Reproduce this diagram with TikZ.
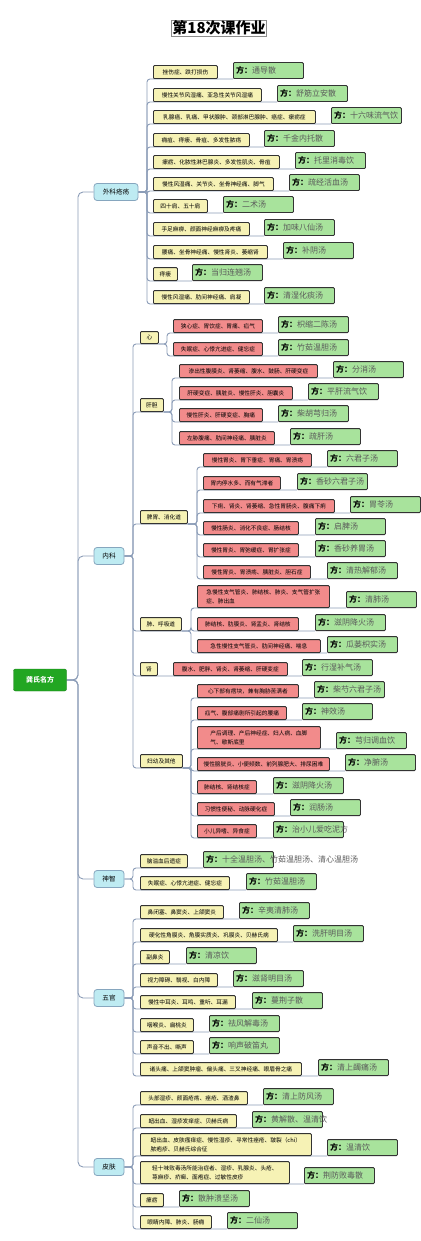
\documentclass[tikz,border=0pt]{standalone}
\usepackage{fontspec}
\setmainfont{Noto Sans CJK SC}
\usetikzlibrary{backgrounds}
\definecolor{yelc}{HTML}{F6F2B5}
\definecolor{redc}{HTML}{F28B8B}
\definecolor{grnc}{HTML}{A8E39C}
\definecolor{l1c}{HTML}{BEEBF2}
\definecolor{l1b}{HTML}{86A6BE}
\definecolor{lnc}{HTML}{8C9DB8}
\definecolor{rootc}{HTML}{22A622}
\definecolor{rootb}{HTML}{1A7F1A}
\definecolor{fg}{HTML}{5A5A5A}
\tikzset{
 ln/.style={draw=lnc, line width=0.9pt, rounded corners=3pt},
 yb/.style={draw=black!80, fill=yelc, line width=0.8pt, rounded corners=1pt, inner xsep=3pt, inner ysep=1pt, minimum height=13pt, align=left, font=\fontsize{5.7}{9}\selectfont},
 rb/.style={yb, fill=redc},
 gb/.style={draw=black!80, fill=grnc, line width=0.8pt, rounded corners=1pt, minimum width=70pt, minimum height=16pt, inner sep=0pt},
 l1/.style={draw=l1b, fill=l1c, line width=0.8pt, rounded corners=3pt, minimum height=17pt, inner sep=0pt, font=\fontsize{6.6}{8}\selectfont},
}
\newcommand\lf[8]{%
 \node[#1, anchor=south west, minimum width=#5pt] (#2) at (#3,#4) {#6};
 \node[gb, anchor=south west] (#2g) at (#7,#4) {};
 \node[anchor=west, inner sep=0pt, font=\fontsize{8}{9}\selectfont] at ([xshift=3pt]#2g.west) {\textbf{方：}\textcolor{fg}{#8}};
}
\newcommand\cn[3]{\draw[ln] (#1) -- (#1 -| #2) |- (#3.south west) -- (#3g.south west);}
\begin{document}
\begin{tikzpicture}[x=1pt,y=-1pt]
\useasboundingbox (0,0) rectangle (420,1241);
\coordinate (R) at (78,0);
\coordinate (Twk) at (147,0);
\coordinate (Tn) at (133,0);
\coordinate (Txin) at (167,0);
\coordinate (Tgd) at (172,0);
\coordinate (Tpw) at (197,0);
\coordinate (Tfei) at (191,0);
\coordinate (Tfy) at (191,0);

\node[draw=black!45, line width=0.5pt, inner sep=0.8pt, font=\fontsize{15}{16}\selectfont\bfseries] (title) at (219,28) {第18次课作业};

\node[fill=rootc, draw=rootb, rounded corners=2pt, minimum width=53pt, minimum height=22pt, text=white, font=\fontsize{7}{8}\selectfont\bfseries] (root) at (40,680) {龚氏名方};

\node[l1, minimum width=44pt] (wk) at (116,192) {外科疮疡};
\node[l1, minimum width=30pt] (nk) at (109,556) {内科};
\node[l1, minimum width=30pt] (sz) at (109,879) {神智};
\node[l1, minimum width=30pt] (wg) at (109,998) {五官};
\node[l1, minimum width=30pt] (pf) at (109,1167) {皮肤};

% 外科疮疡
\lf{yb}{a1}{153}{79}{64}{挫伤症、跌打损伤}{233}{通导散}
\lf{yb}{a2}{153}{102}{108}{慢性关节风湿痛、亚急性关节风湿痛}{277}{舒筋立安散}
\lf{yb}{a3}{153}{124}{162}{乳腺癌、乳痛、甲状腺肿、颈部淋巴腺肿、癌症、瘰疬症}{331}{十六味流气饮}
\lf{yb}{a4}{153}{147}{96}{痈疽、痔瘘、骨疽、多发性脓疡}{264}{千金内托散}
\lf{yb}{a5}{153}{169}{126}{瘰疬、化脓性淋巴腺炎、多发性肌炎、骨疽}{295}{托里消毒饮}
\lf{yb}{a6}{153}{191}{120}{慢性风湿痛、关节炎、坐骨神经痛、脚气}{289}{疏经活血汤}
\lf{yb}{a7}{153}{213}{54}{四十肩、五十肩}{223}{二术汤}
\lf{yb}{a8}{153}{236}{96}{手足麻痹、颜面神经麻痹及疼痛}{264}{加味八仙汤}
\lf{yb}{a9}{153}{259}{114}{腰痛、坐骨神经痛、慢性肾炎、萎缩肾}{283}{补阴汤}
\lf{yb}{a10}{153}{281}{24}{痔瘘}{192}{当归连翘汤}
\lf{yb}{a11}{153}{304}{96}{慢性风湿痛、肋间神经痛、肩凝}{264}{清湿化痰汤}

% 内科
\node[yb, anchor=south west, minimum width=18pt, minimum height=12pt] (xin) at (140,344) {心};
\lf{rb}{b1}{173}{333}{89}{狭心症、胃饮症、胃痛、疝气}{278}{枳缩二陈汤}
\lf{rb}{b2}{173}{356}{89}{失眠症、心悸亢进症、健忘症}{278}{竹茹温胆汤}

\node[yb, anchor=south west, minimum width=23pt] (gd) at (140,412) {肝胆};
\lf{rb}{c1}{179}{378}{138}{渗出性腹膜炎、肾萎缩、腹水、鼓肠、肝硬变症}{333}{分消汤}
\lf{rb}{c2}{179}{400}{113}{肝硬变症、胰脏炎、慢性肝炎、胆囊炎}{308}{平肝流气饮}
\lf{rb}{c3}{179}{422}{83}{慢性肝炎、肝硬变症、胸痛}{278}{柴胡芎归汤}
\lf{rb}{c4}{179}{445}{95}{左胁腹痛、肋间神经痛、胰脏炎}{290}{疏肝汤}

\node[yb, anchor=south west, minimum width=47pt] (pw) at (140,524) {脾胃、消化道};
\lf{rb}{d1}{203}{467}{108}{慢性胃炎、胃下垂症、胃痛、胃溃疡}{327}{六君子汤}
\lf{rb}{d2}{203}{490}{77}{胃内停水多、而有气滞者}{297}{香砂六君子汤}
\lf{rb}{d3}{203}{513}{131}{下痢、肾炎、肾萎缩、急性胃肠炎、腹痛下痢}{350}{胃苓汤}
\lf{rb}{d4}{203}{535}{95}{慢性肠炎、消化不良症、肠结核}{315}{启脾汤}
\lf{rb}{d5}{203}{557}{95}{慢性胃炎、胃弛缓症、胃扩张症}{315}{香砂养胃汤}
\lf{rb}{d6}{203}{579}{107}{慢性胃炎、胃溃疡、胰脏炎、胆石症}{327}{清热解郁汤}

\node[yb, anchor=south west, minimum width=41pt] (fei) at (140,631) {肺、呼吸道};
\lf{rb, minimum height=22pt}{e1}{197}{608}{132}{急慢性支气管炎、肺结核、肺炎、支气管扩张\\症、肺出血}{346}{清肺汤}
\lf{rb}{e2}{197}{631}{101}{肺结核、肋膜炎、肾盂炎、肾结核}{315}{滋阴降火汤}
\lf{rb}{e3}{197}{653}{123}{急性慢性支气管炎、肋间神经痛、喘息}{327}{瓜蒌枳实汤}

\node[yb, anchor=south west, minimum width=17pt] (shen) at (140,676) {肾};
\lf{rb}{s1}{173}{676}{114}{腹水、肥胖、肾炎、肾萎缩、肝硬变症}{302}{行湿补气汤}

\node[yb, anchor=south west, minimum width=42pt] (fy) at (140,768) {妇幼及其他};
\lf{rb}{f1}{197}{698}{101}{心下部有痞块，兼有胸胁苦满者}{314}{柴芍六君子汤}
\lf{rb}{f2}{197}{720}{89}{疝气、腹部痛剧所引起的腰痛}{302}{神效汤}
\lf{rb, minimum height=22pt}{f3}{197}{749}{123}{产后调理、产后神经症、妇人病、血脚\\气、歇斯底里}{336}{芎归调血饮}
\lf{rb}{f4}{197}{771}{132}{慢性膀胱炎、小便频数、前列腺肥大、排尿困难}{345}{净腑汤}
\lf{rb}{f5}{197}{794}{59}{肺结核、肾结核症}{273}{滋阴降火汤}
\lf{rb}{f6}{197}{816}{77}{习惯性便秘、动脉硬化症}{290}{润肠汤}
\lf{rb}{f7}{197}{838}{59}{小儿异嗜、异食症}{273}{治小儿爱吃泥方}

% 神智
\lf{yb}{g1}{140}{868}{47}{脑溢血后遗症}{203}{十全温胆汤、竹茹温胆汤、清心温胆汤}
\lf{yb}{g2}{140}{890}{89}{失眠症、心悸亢进症、健忘症}{246}{竹茹温胆汤}

% 五官
\lf{yb}{h1}{140}{919}{83}{鼻闭塞、鼻窦炎、上颌窦炎}{239}{辛夷清肺汤}
\lf{yb}{h2}{140}{942}{137}{硬化性角膜炎、角膜实质炎、巩膜炎、贝赫氏病}{293}{洗肝明目汤}
\lf{yb}{h3}{140}{964}{29}{副鼻炎}{186}{清凉饮}
\lf{yb}{h4}{140}{987}{77}{视力障碍、翳视、白内障}{233}{滋肾明目汤}
\lf{yb}{h5}{140}{1009}{95}{慢性中耳炎、耳鸣、重听、耳漏}{252}{蔓荆子散}
\lf{yb}{h6}{140}{1032}{53}{咽喉炎、扁桃炎}{209}{祛风解毒汤}
\lf{yb}{h7}{140}{1054}{53}{声音不出、嘶声}{209}{响声破笛丸}
\lf{yb}{h8}{140}{1076}{161}{诸头痛、上颌窦肿瘤、偏头痛、三叉神经痛、眼眉骨之痛}{318}{清上蠲痛汤}

% 皮肤
\lf{yb}{k1}{140}{1105}{107}{头部湿疹、颜面疮疡、痤疮、酒渣鼻}{263}{清上防风汤}
\lf{yb}{k2}{140}{1128}{96}{衄出血、湿疹发痒症、贝赫氏病}{252}{黄解散、温清饮}
\lf{yb, minimum height=22pt}{k3}{140}{1156}{171}{衄出血、皮肤瘙痒症、慢性湿疹、寻常性痤疮、皲裂（chi）\\脓疱疹、贝赫氏综合征}{327}{温清饮}
\lf{yb, minimum height=22pt}{k4}{140}{1184}{149}{轻十味败毒汤所能治症者、湿疹、乳腺炎、头疮、\\荨麻疹、疥癣、面疱症、过敏性皮疹}{304}{荆防败毒散}
\lf{yb}{k5}{140}{1207}{23}{瘰疬}{179}{散肿溃坚汤}
\lf{yb}{k6}{140}{1229}{71}{眼睛内障、肺炎、肠痈}{227}{二仙汤}

\begin{pgfonlayer}{background}
\fill[white] (0,0) rectangle (420,1241);
\foreach \n in {wk,nk,sz,wg,pf}{
  \draw[ln, rounded corners=5pt] (root.east) -- (root.east -| R) |- (\n.west);
}
\foreach \n in {a1,a2,a3,a4,a5,a6,a7,a8,a9,a10,a11}{\cn{wk.east}{Twk}{\n}}
\foreach \n in {xin,gd,pw,fei,fy}{
  \draw[ln] (nk.east) -- (nk.east -| Tn) |- (\n.south west) -- (\n.south east);
}
\draw[ln] (nk.east) -- (nk.east -| Tn) |- (shen.south west) -- (s1g.south west);
\foreach \n in {b1,b2}{\cn{xin.south east}{Txin}{\n}}
\foreach \n in {c1,c2,c3,c4}{\cn{gd.south east}{Tgd}{\n}}
\foreach \n in {d1,d2,d3,d4,d5,d6}{\cn{pw.south east}{Tpw}{\n}}
\foreach \n in {e1,e2,e3}{\cn{fei.south east}{Tfei}{\n}}
\foreach \n in {f1,f2,f3,f4,f5,f6,f7}{\cn{fy.south east}{Tfy}{\n}}
\foreach \n in {g1,g2}{\cn{sz.east}{Tn}{\n}}
\foreach \n in {h1,h2,h3,h4,h5,h6,h7,h8}{\cn{wg.east}{Tn}{\n}}
\foreach \n in {k1,k2,k3,k4,k5,k6}{\cn{pf.east}{Tn}{\n}}
\end{pgfonlayer}
\end{tikzpicture}
\end{document}
